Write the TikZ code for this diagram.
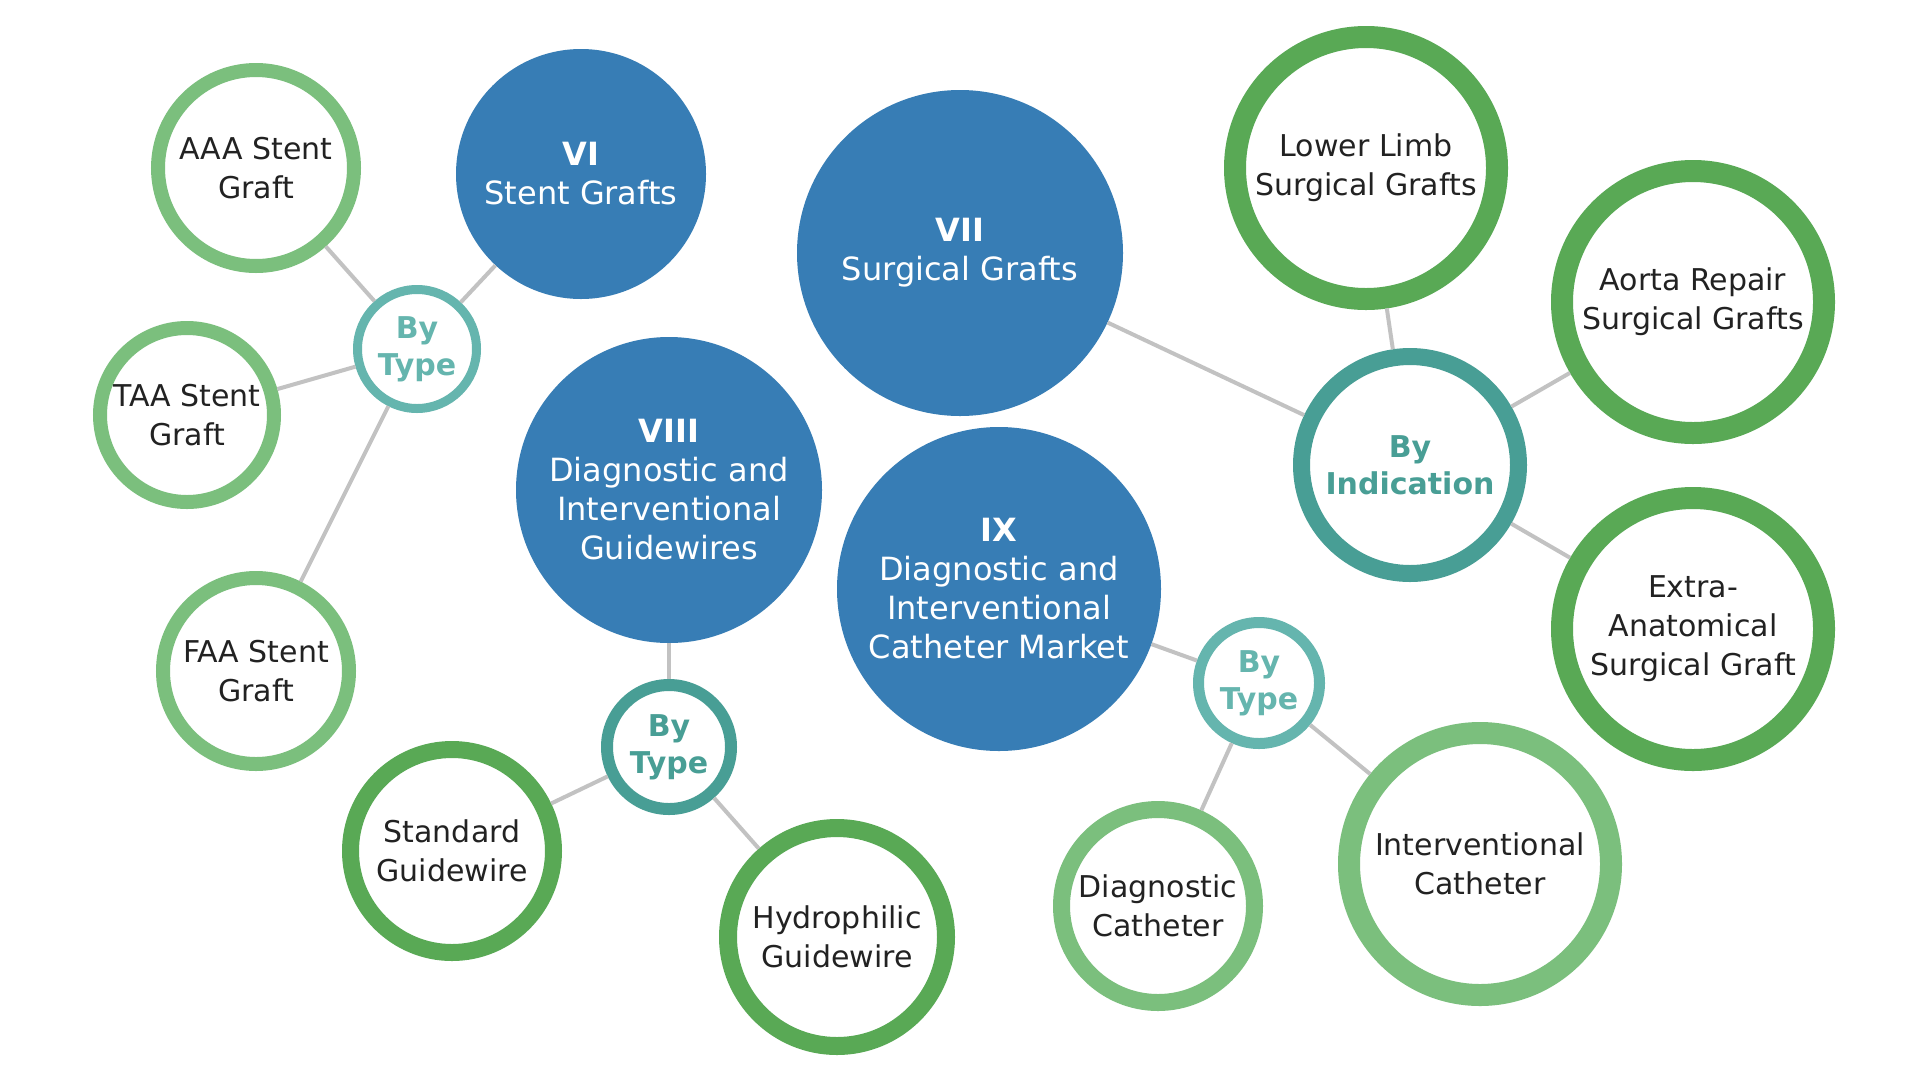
\documentclass[tikz,border=0pt]{standalone}
\usepackage{fontspec}
\setmainfont{DejaVu Sans}
\definecolor{mblue}{HTML}{377DB5}
\definecolor{lgreen}{HTML}{7BBF7D}
\definecolor{dgreen}{HTML}{59A955}
\definecolor{lteal}{HTML}{65B5AE}
\definecolor{dteal}{HTML}{489E95}
\definecolor{edgegray}{HTML}{C2C2C2}
\definecolor{txt}{HTML}{222222}
\begin{document}
\begin{tikzpicture}[x=1pt,y=-1pt,
  ring/.style n args={3}{circle, draw=#1, line width=#2, minimum size={2*#3-#2}, inner sep=0pt, fill=white, align=center},
  leaf/.style={text=txt, font=\fontsize{30}{39}\selectfont},
  seg/.style={text=#1, font=\bfseries\fontsize{30}{37}\selectfont},
  mainnode/.style={circle, fill=mblue, draw=none, minimum size={2*#1}, inner sep=0pt, align=center, text=white, font=\fontsize{32}{39}\selectfont},
  link/.style={draw=edgegray, line width=4}
]
\fill[white] (0,0) rectangle (1919,1080);
\useasboundingbox (0,0) rectangle (1919,1080);

% main topics
\node[mainnode=125] (vi) at (581,174) {\textbf{VI}\\Stent Grafts};
\node[mainnode=163] (vii) at (960,253) {\textbf{VII}\\Surgical Grafts};
\node[mainnode=153] (viii) at (669,490) {\textbf{VIII}\\Diagnostic and\\Interventional\\Guidewires};
\node[mainnode=162] (ix) at (999,589) {\textbf{IX}\\Diagnostic and\\Interventional\\Catheter Market};

% segment nodes
\node[ring={lteal}{9}{64}, seg=lteal] (bt1) at (417,349) {By\\Type};
\node[ring={dteal}{12}{68}, seg=dteal] (bt2) at (669,747) {By\\Type};
\node[ring={dteal}{17}{117}, seg=dteal] (bind) at (1410,465) {By\\Indication};
\node[ring={lteal}{11}{66}, seg=lteal] (bt3) at (1259,683) {By\\Type};

% leaves
\node[ring={lgreen}{14}{105}, leaf] (aaa) at (256,168) {AAA Stent\\Graft};
\node[ring={lgreen}{14}{94}, leaf] (taa) at (187,415) {TAA Stent\\Graft};
\node[ring={lgreen}{14}{100}, leaf] (faa) at (256,671) {FAA Stent\\Graft};
\node[ring={dgreen}{17}{110}, leaf] (std) at (452,851) {Standard\\Guidewire};
\node[ring={dgreen}{18}{118}, leaf] (hyd) at (837,937) {Hydrophilic\\Guidewire};
\node[ring={dgreen}{22}{142}, leaf] (low) at (1366,168) {Lower Limb\\Surgical Grafts};
\node[ring={dgreen}{22}{142}, leaf] (aor) at (1693,302) {Aorta Repair\\Surgical Grafts};
\node[ring={dgreen}{22}{142}, leaf] (ext) at (1693,629) {Extra-\\Anatomical\\Surgical Graft};
\node[ring={lgreen}{17}{105}, leaf] (dia) at (1158,906) {Diagnostic\\Catheter};
\node[ring={lgreen}{22}{142}, leaf] (int) at (1480,864) {Interventional\\Catheter};

% connectors
\draw[link] (bt1) -- (aaa);
\draw[link] (bt1) -- (vi);
\draw[link] (bt1) -- (taa);
\draw[link] (bt1) -- (faa);
\draw[link] (viii) -- (bt2);
\draw[link] (bt2) -- (std);
\draw[link] (bt2) -- (hyd);
\draw[link] (vii) -- (bind);
\draw[link] (bind) -- (low);
\draw[link] (bind) -- (aor);
\draw[link] (bind) -- (ext);
\draw[link] (ix) -- (bt3);
\draw[link] (bt3) -- (dia);
\draw[link] (bt3) -- (int);
\end{tikzpicture}
\end{document}
